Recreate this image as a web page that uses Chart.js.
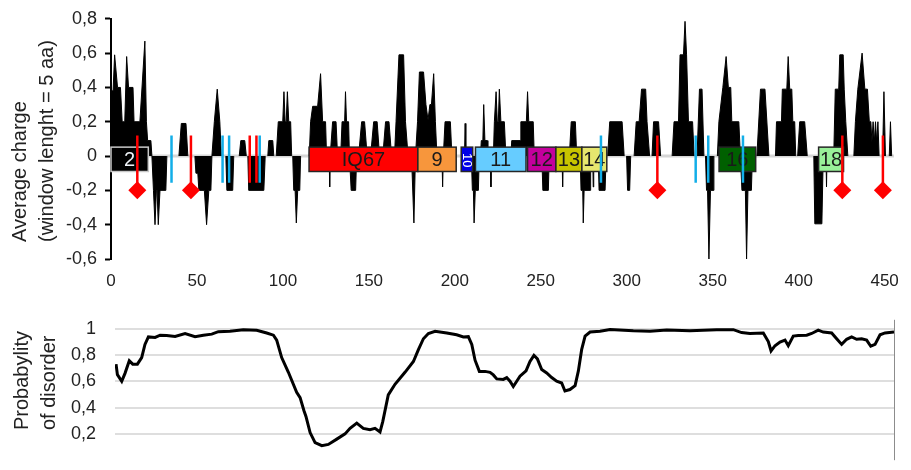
<!DOCTYPE html>
<html>
<head>
<meta charset="utf-8">
<script src="https://cdn.jsdelivr.net/npm/chart.js@4.4.0/dist/chart.umd.min.js"></script>
<style>
  html, body { margin: 0; padding: 0; background: #fff; width: 911px; height: 470px; overflow: hidden; }
  #chargeChart { position: absolute; left: 0; top: 0; }
  #disorderChart { position: absolute; left: 0; top: 290px; }
</style>
</head>
<body>
<canvas id="chargeChart" width="911" height="295"></canvas>
<canvas id="disorderChart" width="911" height="200"></canvas>
<script>
// ---- Average charge profile (window = 5 aa): residue position / value ----
const chargeResidue = [
  0, 1.2, 2.1, 3.8, 5.5, 6.5, 8, 9.1, 10.2, 12.8, 13.4, 16.8, 19.7, 20.6, 21.3, 23.2, 23.8,
  24.7, 25.6, 26.4, 26.8, 27.5, 28.5, 31.9, 32.5,
  39.5, 40.9, 43.6, 44.7,
  48.8, 49.4, 50.5, 51.1, 54.3, 55.6, 56.9, 58.1, 58.7,
  60.1, 61.8, 63.3, 64.2,
  66.8, 67.4, 70.8, 71.4,
  74.6, 75.5, 77.8, 78.7,
  79.6, 80.1, 88.9, 89.7,
  91.2, 91.8, 94.1, 94.7,
  96.1, 97.3, 99.9, 100.6, 101.3, 101.9, 102.6, 103.4, 104.5, 105.1,
  105.7, 106.3, 107.1, 107.8, 108.6, 109.8, 110.3,
  115.3, 116.1, 117.3, 120.2, 121.9, 123.1, 124.8, 125.4,
  126.9, 127.2, 127.5,
  128.9, 130.9, 131.8,
  133.6, 134.4, 135.9, 136.4, 137, 138.2, 138.7,
  139.7, 142.3, 142.9,
  144, 145.8, 147.5, 149,
  151, 152.8, 154.8, 156.2,
  158.1, 159.7, 161.7, 163.2,
  164.9, 165.8, 167.5, 170.2, 171.3, 172.8,
  174.8, 176.2, 177.1,
  178.3, 179.4, 181.8, 183.2, 184.4, 185.5, 186.4, 187.7, 188.7, 189.6,
  192.5, 192.9, 193.3,
  194.3, 197.4, 198.3,
  205.6, 206, 206.4,
  209.6, 210.2, 210.8, 211.2, 211.9, 213.7, 214.2,
  214.9, 215.4, 216.3, 216.8, 217.5, 218.9, 219.2,
  220.7, 221, 221.3,
  222.4, 223, 224, 224.7, 225.3, 225.9, 226.8, 228.8, 229.7,
  232.6, 233.1, 238.1, 238.4, 241.6, 242.3, 243, 245.6, 246.2,
  250.6, 251.2, 254.4, 254.9,
  262.4, 262.7, 263,
  266.6, 267.7, 270.1, 270.9,
  272.9, 273.4, 274.4, 274.7, 275.2, 278.7, 279,
  280.2, 280.5, 280.8,
  283.4, 283.9, 287.4, 288,
  288.9, 290.1, 297.3, 298.5,
  299.9, 300.5, 301.7, 302.3,
  304.3, 305.5, 307.2, 308.6, 311, 311.8, 313.3,
  314.7, 315.6, 318.5, 319.7,
  326.4, 327.5, 330.1, 331, 333, 333.9, 334.8, 335.9, 338.3, 339.2,
  340.9, 342.3, 343.8, 344.9,
  345.8, 346.4, 347, 347.8, 348.7, 350.2, 350.7,
  352.7, 353.6, 355.9, 357.8, 359.1, 360.5, 361.1, 365.2, 366.1,
  367, 369, 369.7, 370.5, 372.5, 373.1,
  375.7, 377.8, 380.4, 382.7,
  386.5, 387.1, 390, 390.5, 393.1, 393.9, 394.8, 396, 396.6, 397.7, 398.3,
  399.4, 400.6, 403.5, 405,
  408.8, 409.4, 413.5, 414.3,
  415.9, 416.2, 416.5,
  420.4, 421.3, 423.3, 423.9, 425.9, 426.5, 427.4, 428.6,
  432.1, 433, 434.4, 436.9, 438.5, 440, 441.1, 442, 442.6, 443.3, 444, 444.7, 445.4, 446.1, 446.8,
  448.8, 449.6, 450.5,
  452.7, 453.4, 454.1
];
const chargeValue = [
  0.38, 0.38, 0.59, 0.4, 0.4, 0.2, 0.2, 0.58, 0.4, 0.4, 0.2, 0.2, 0.67, 0.2, 0.09, 0.09, 0,
  -0.2, -0.4, -0.2, -0.2, -0.4, -0.2, -0.2, 0,
  0, 0.19, 0.19, 0,
  0, -0.1, -0.1, -0.2, -0.2, -0.4, -0.2, -0.2, 0,
  0.2, 0.39, 0.2, 0,
  0, -0.2, -0.2, 0,
  0, 0.09, 0.09, 0,
  0, -0.2, -0.2, 0,
  0, 0.09, 0.09, 0,
  0, 0.2, 0.2, 0.375, 0.2, 0.2, 0.375, 0.2, 0.2, 0,
  0, -0.2, -0.2, -0.39, -0.2, -0.2, 0,
  0, 0.2, 0.29, 0.29, 0.48, 0.2, 0.2, 0,
  0, -0.18, 0,
  0.2, 0.2, 0,
  0, 0.2, 0.2, 0.375, 0.2, 0.2, 0,
  -0.2, -0.2, 0,
  0, 0.2, 0.2, 0,
  0, 0.2, 0.2, 0,
  0, 0.2, 0.2, 0,
  0, 0.2, 0.59, 0.59, 0.2, 0,
  0, -0.39, 0,
  0.2, 0.49, 0.49, 0.3, 0.21, 0.3, 0.3, 0.48, 0.2, 0,
  0, -0.18, 0,
  0.2, 0.2, 0,
  0, 0.19, 0,
  0, -0.2, -0.2, -0.39, -0.2, -0.2, 0,
  0, 0.09, 0.09, 0.3, 0.09, 0.09, 0,
  0, -0.18, 0,
  0, 0.2, 0.375, 0.2, 0.2, 0.39, 0.2, 0.2, 0,
  0, 0.09, 0.09, 0.2, 0.2, 0.375, 0.2, 0.2, 0,
  0, -0.2, -0.2, 0,
  0, -0.18, 0,
  0, 0.2, 0.2, 0,
  0, -0.2, -0.2, -0.39, -0.2, -0.2, 0,
  0, -0.18, 0,
  0, -0.2, -0.2, 0,
  0, 0.2, 0.2, 0,
  0, -0.2, -0.2, 0,
  0, 0.2, 0.2, 0.39, 0.39, 0.2, 0,
  0, 0.2, 0.2, 0,
  0, 0.2, 0.2, 0.59, 0.59, 0.785, 0.59, 0.2, 0.2, 0,
  0, 0.39, 0.39, 0,
  0, -0.2, -0.2, -0.6, -0.2, -0.2, 0,
  0, 0.2, 0.4, 0.58, 0.4, 0.4, 0.2, 0.2, 0,
  -0.2, -0.2, -0.6, -0.2, -0.2, 0,
  0, 0.39, 0.39, 0,
  0, 0.2, 0.2, 0.39, 0.39, 0.58, 0.39, 0.39, 0.2, 0.2, 0,
  0, 0.2, 0.2, 0,
  0, -0.395, -0.395, 0,
  0, -0.18, 0,
  0, 0.39, 0.39, 0.59, 0.59, 0.39, 0.2, 0,
  0, 0.2, 0.39, 0.6, 0.39, 0.39, 0.2, 0.2, 0.08, 0.2, 0.08, 0.2, 0.08, 0.2, 0,
  0, 0.375, 0,
  0, 0.2, 0
];

// ---- Domains / motifs drawn on the charge axis ----
const domainLabels = ['2', 'IQ67', '9', '10', '11', '12', '13', '14', '16', '18'];
const domainStart  = [0, 115.2, 178.5, 203.7, 212, 242.3, 258.8, 273.9, 353.7, 411.6];
const domainEnd    = [21.7, 178.5, 200.8, 210.4, 241.4, 258.8, 273.9, 288.4, 375, 426.1];
const domainColors = ['#000000', '#ff0000', '#f7963c', '#0000e6', '#66ccff', '#c4009c', '#c8c400', '#e6e66e', '#006000', '#99f099'];
const domainTextColors = ['#eef2f6', '#1a1a1a', '#1a1a1a', '#ffffff', '#1a1a1a', '#1a1a1a', '#1a1a1a', '#1a1a1a', '#1a1a1a', '#1a1a1a'];
const domainTop = 0.052, domainBottom = -0.09;

// ---- Site markers ----
const siteResidue = [15.3, 46.5, 317.8, 425.4, 449];            // red, with diamond
const redMarkResidue = [80.7, 84.6];                             // red, no diamond
const blueMarkResidue = [35.2, 64.9, 68.7, 86.5, 285, 340.1, 347.4, 367.6];
const markTop = 0.12, markBottom = -0.155, siteLevel = -0.2;

// ---- Disorder probability profile ----
const disorderResidue = [
  2.9, 3.7, 6.2, 8.1, 10.6, 12.6, 15.3, 17.8, 19.7, 21.7, 25.6, 28.5, 32.3, 37.2, 43, 48.8, 53.6, 58.5,
  62.3, 69.1, 76.8, 84.6, 90.4, 94.3, 96.2, 99.1, 103, 107.8, 109.8, 112, 113.2, 115.6, 118.5, 122.4,
  126.2, 131.1, 135.9, 138.8, 142.7, 146.5, 150.4, 153.3, 156.2, 157.8, 161, 164.9, 170.7, 175.6, 178.5,
  181.4, 184.3, 188.2, 195, 200.7, 204.6, 207.5, 209.5, 211.4, 213.9, 217.2, 220.1, 222, 224, 227.8,
  229.8, 231.7, 233.6, 235.6, 237.5, 241, 243.3, 245.6, 247.6, 250.1, 253, 255.9, 258.8, 261.7, 263.6,
  266.5, 269.5, 271.4, 273.3, 275.3, 278.2, 284, 289.8, 303.3, 313, 322.7, 336.2, 351.7, 361.4, 366.2,
  371, 378.8, 381.7, 383.3, 385.6, 388.5, 391.4, 393.3, 396.2, 399.1, 404, 406.9, 410.7, 413.6, 418.5,
  421.4, 424.3, 427.2, 430.1, 433, 435.9, 438.8, 441.2, 443.7, 446.6, 449.5, 454.7
];
const disorderValue = [
  0.73, 0.65, 0.6, 0.66, 0.756, 0.73, 0.73, 0.78, 0.88, 0.937, 0.933, 0.95, 0.948, 0.94, 0.963, 0.939, 0.95, 0.958,
  0.977, 0.98, 0.992, 0.988, 0.967, 0.95, 0.913, 0.78, 0.668, 0.516, 0.476, 0.378, 0.333, 0.21, 0.134, 0.11,
  0.12, 0.16, 0.2, 0.242, 0.282, 0.242, 0.232, 0.242, 0.215, 0.293, 0.496, 0.577, 0.668, 0.75, 0.84,
  0.923, 0.963, 0.98, 0.967, 0.953, 0.937, 0.939, 0.88, 0.76, 0.675, 0.675, 0.668, 0.648, 0.618, 0.614,
  0.628, 0.6, 0.56, 0.6, 0.638, 0.679, 0.75, 0.797, 0.77, 0.689, 0.663, 0.628, 0.6, 0.587, 0.526,
  0.537, 0.567, 0.679, 0.84, 0.943, 0.974, 0.98, 0.994, 0.984, 0.98, 0.99, 0.984, 0.992, 0.992, 0.97,
  0.963, 0.967, 0.902, 0.83, 0.87, 0.898, 0.913, 0.87, 0.943, 0.947, 0.95, 0.963, 0.988, 0.974, 0.967,
  0.923, 0.88, 0.919, 0.937, 0.919, 0.923, 0.913, 0.866, 0.88, 0.953, 0.967, 0.974
];

// ---- Tick values ----
const residueTicks = [0, 50, 100, 150, 200, 250, 300, 350, 400, 450];
const chargeTicks = [-0.6, -0.4, -0.2, 0, 0.2, 0.4, 0.6, 0.8];
const disorderTicks = [0.2, 0.4, 0.6, 0.8, 1];

const FONT = "'Liberation Sans', Arial, sans-serif";
const TEXT = '#222';
Chart.defaults.font.family = FONT;
Chart.defaults.color = TEXT;

const fmt = v => Number.isInteger(v) ? String(v) : v.toFixed(1).replace('.', ',');
const markLines = (xs, bottom) => xs.flatMap(x => [{x, y: markTop}, {x, y: bottom}, {x, y: null}]);

// rotated two-line axis captions
function captionPlugin(lines, xs, startY) {
  return {
    id: 'caption',
    afterDraw(chart) {
      const ctx = chart.ctx;
      ctx.save();
      ctx.fillStyle = TEXT;
      ctx.font = '20px ' + FONT;
      ctx.textAlign = 'left';
      ctx.textBaseline = 'middle';
      lines.forEach((t, i) => {
        ctx.save();
        ctx.translate(xs[i], startY);
        ctx.rotate(-Math.PI / 2);
        ctx.fillText(t, 0, 0);
        ctx.restore();
      });
      ctx.restore();
    }
  };
}

// grey zero line under the charge profile
const baselinePlugin = {
  id: 'baseline',
  beforeDatasetsDraw(chart) {
    const {ctx, chartArea, scales: {y}} = chart;
    const y0 = y.getPixelForValue(0);
    ctx.save();
    ctx.strokeStyle = '#d6d6d6';
    ctx.lineWidth = 3;
    ctx.beginPath();
    ctx.moveTo(chartArea.left, y0);
    ctx.lineTo(chartArea.right - 1, y0);
    ctx.stroke();
    ctx.restore();
  }
};

// domain boxes, drawn right after the charge area so markers stay on top
const domainPlugin = {
  id: 'domains',
  afterDatasetDraw(chart, args) {
    if (args.index !== 0) return;
    const {ctx, scales: {x, y}} = chart;
    const yt = y.getPixelForValue(domainTop), yb = y.getPixelForValue(domainBottom);
    ctx.save();
    domainLabels.forEach((label, i) => {
      const x0 = x.getPixelForValue(domainStart[i]);
      const x1 = x.getPixelForValue(domainEnd[i]);
      ctx.fillStyle = domainColors[i];
      ctx.fillRect(x0, yt, x1 - x0, yb - yt);
      ctx.lineWidth = 1.5;
      ctx.strokeStyle = i === 0 ? '#c8c8c8' : '#262626';
      ctx.strokeRect(x0, yt, x1 - x0, yb - yt);
      ctx.fillStyle = domainTextColors[i];
      ctx.textAlign = 'center';
      ctx.textBaseline = 'middle';
      const cx = (x0 + x1) / 2, cy = (yt + yb) / 2 + 1;
      if (x1 - x0 < 16) {
        ctx.font = '13px ' + FONT;
        ctx.save();
        ctx.translate(cx, cy);
        ctx.rotate(Math.PI / 2);
        ctx.fillText(label, 0, 0);
        ctx.restore();
      } else {
        ctx.font = '20px ' + FONT;
        ctx.fillText(label, cx, cy);
      }
    });
    ctx.restore();
  }
};

new Chart(document.getElementById('chargeChart'), {
  type: 'line',
  data: {
    datasets: [
      {
        label: 'Average charge',
        data: chargeResidue.map((x, i) => ({x, y: chargeValue[i]})),
        fill: 'origin',
        backgroundColor: '#000',
        borderColor: '#000',
        borderWidth: 1,
        pointRadius: 0,
        tension: 0,
        order: 3,
        segment: {
          borderColor: c => (c.p0.parsed.y === 0 && c.p1.parsed.y === 0) ? 'rgba(0,0,0,0)' : '#000'
        }
      },
      {
        label: 'blue marks',
        data: markLines(blueMarkResidue, markBottom),
        borderColor: '#12aee8',
        borderWidth: 2.5,
        pointRadius: 0,
        fill: false,
        spanGaps: false,
        order: 2
      },
      {
        label: 'red marks',
        data: markLines(redMarkResidue, markBottom).concat(markLines(siteResidue, siteLevel)),
        borderColor: '#ff0000',
        borderWidth: 2.5,
        pointRadius: 0,
        fill: false,
        spanGaps: false,
        order: 2
      },
      {
        type: 'scatter',
        label: 'sites',
        data: siteResidue.map(x => ({x, y: siteLevel})),
        pointStyle: 'rectRot',
        pointRadius: 9,
        backgroundColor: '#ff0000',
        borderColor: '#ff0000',
        borderWidth: 0,
        order: 1
      }
    ]
  },
  options: {
    responsive: false,
    animation: false,
    events: [],
    layout: {padding: {top: 17, right: 15, bottom: 0, left: 0}},
    plugins: {legend: {display: false}, tooltip: {enabled: false}},
    scales: {
      x: {
        type: 'linear',
        min: 0,
        max: 456,
        grid: {display: false, drawTicks: false},
        border: {display: false},
        afterBuildTicks: s => { s.ticks = residueTicks.map(v => ({value: v})); },
        afterFit: s => { s.height = 36; },
        ticks: {padding: 12, color: TEXT, font: {size: 17}, callback: v => String(v)}
      },
      y: {
        min: -0.6,
        max: 0.8,
        afterBuildTicks: s => { s.ticks = chargeTicks.map(v => ({value: v})); },
        afterFit: s => { s.width = 111; },
        grid: {drawOnChartArea: false, tickLength: 6, tickWidth: 2, tickColor: '#000'},
        border: {color: '#000', width: 2},
        ticks: {padding: 8, color: TEXT, font: {size: 18}, callback: v => fmt(v)}
      }
    }
  },
  plugins: [baselinePlugin, domainPlugin,
    captionPlugin(['Average charge', '(window lenght = 5 aa)'], [20, 47], 242)]
});

// right border of the disorder panel
const rightEdgePlugin = {
  id: 'rightEdge',
  afterDraw(chart) {
    const {ctx, chartArea} = chart;
    ctx.save();
    ctx.strokeStyle = '#8c8c8c';
    ctx.lineWidth = 1;
    ctx.beginPath();
    ctx.moveTo(chartArea.right + 0.5, chartArea.top);
    ctx.lineTo(chartArea.right + 0.5, chartArea.bottom);
    ctx.stroke();
    ctx.restore();
  }
};

new Chart(document.getElementById('disorderChart'), {
  type: 'line',
  data: {
    datasets: [{
      label: 'Probabylity of disorder',
      data: disorderResidue.map((x, i) => ({x, y: disorderValue[i]})),
      borderColor: '#000',
      borderWidth: 3,
      pointRadius: 0,
      tension: 0,
      fill: false
    }]
  },
  options: {
    responsive: false,
    animation: false,
    events: [],
    layout: {padding: {top: 13, right: 17, bottom: 12, left: 0}},
    plugins: {legend: {display: false}, tooltip: {enabled: false}},
    scales: {
      x: {type: 'linear', min: 2.3, max: 454.7, display: false},
      y: {
        min: 0,
        max: 1.067,
        afterBuildTicks: s => { s.ticks = disorderTicks.map(v => ({value: v})); },
        afterFit: s => { s.width = 115; },
        grid: {color: '#dedede', lineWidth: 2, drawTicks: false},
        border: {display: false},
        ticks: {padding: 19, color: TEXT, font: {size: 18}, callback: v => fmt(v)}
      }
    }
  },
  plugins: [rightEdgePlugin, captionPlugin(['Probabylity', 'of disorder'], [22, 49], 140)]
});
</script>
</body>
</html>
